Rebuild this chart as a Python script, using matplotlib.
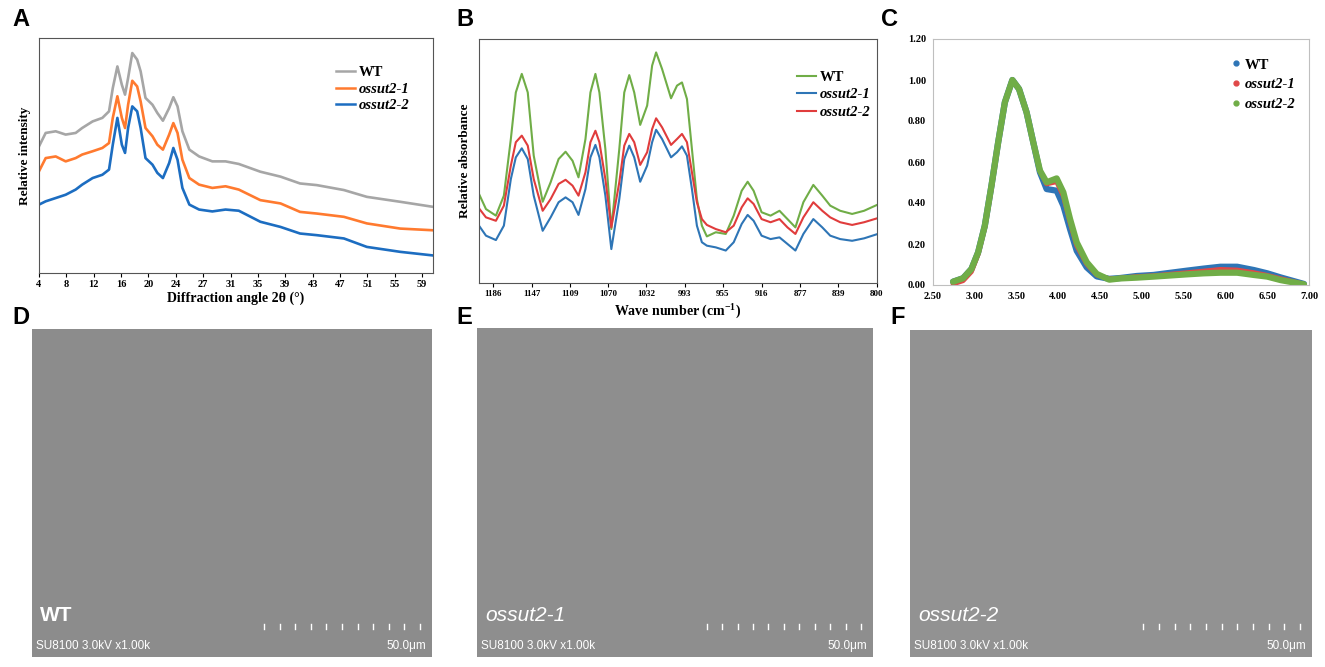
import matplotlib
matplotlib.use('Agg')
import matplotlib.pyplot as plt
from matplotlib.lines import Line2D
from matplotlib.ticker import FormatStrFormatter

plt.rcParams['mathtext.fontset'] = 'custom'
plt.rcParams['mathtext.rm'] = 'Liberation Serif:bold'
plt.rcParams['mathtext.bf'] = 'Liberation Serif:bold'

W, H = 1325, 667

# ---- A: XRD ----
xrd_angle = [4.0, 4.96, 6.4, 7.83, 9.27, 10.2, 11.7, 13.1, 14.06, 14.6, 15.26, 15.9, 16.36,
             16.8, 17.4, 18.1, 18.6, 19.3, 20.3, 21.0, 21.8, 22.7, 23.3, 23.9, 24.6,
             25.6, 27.0, 28.9, 30.8, 32.7, 35.8, 38.7, 41.5, 43.9, 47.8, 51.1, 55.9, 60.5]
xrd_wt = [53.9, 59.6, 60.3, 58.9, 59.6, 61.7, 64.5, 66.0, 68.8, 78.7, 87.9, 80.1, 75.9,
          83.0, 93.6, 90.8, 85.8, 74.5, 71.6, 68.1, 64.8, 70.2, 74.8, 70.9, 60.3,
          52.5, 49.6, 47.5, 47.5, 46.4, 43.1, 41.0, 38.1, 37.4, 35.3, 32.4, 30.3, 28.2]
xrd_o1 = [43.3, 48.9, 49.6, 47.5, 48.9, 50.4, 51.8, 53.2, 55.3, 66.0, 75.2, 66.0, 61.7,
          71.6, 81.8, 79.4, 73.0, 61.7, 58.2, 54.6, 52.5, 58.9, 63.8, 59.6, 48.2,
          40.4, 37.6, 36.2, 36.9, 35.5, 31.0, 29.6, 26.0, 25.3, 23.9, 21.1, 18.9, 18.2]
xrd_o2 = [29.1, 30.5, 31.9, 33.3, 35.5, 37.6, 40.4, 41.8, 44.0, 54.6, 66.0, 54.6, 51.1,
          61.7, 70.9, 68.8, 61.7, 48.9, 46.1, 42.6, 40.4, 46.8, 53.2, 48.2, 36.2,
          29.1, 27.0, 26.2, 27.0, 26.5, 21.8, 19.6, 16.8, 16.1, 14.7, 11.1, 9.0, 7.5]
xrd_ticklabels = ['4', '8', '12', '16', '20', '24', '27', '31', '35', '39', '43', '47', '51', '55', '59']

# ---- B: FTIR ----
ftir_wn = [1200, 1193, 1183, 1175, 1168, 1163, 1157, 1151, 1145, 1136, 1128, 1120, 1113,
           1106, 1100, 1093, 1088, 1083, 1079, 1073, 1067, 1059, 1054, 1049, 1044, 1038,
           1031, 1026, 1022, 1016, 1007, 1001, 996, 991, 986, 981, 976, 971, 962, 952,
           944, 936, 930, 924, 916, 907, 898, 890, 882, 874, 864, 855, 847, 837, 825,
           813, 800]
ftir_wt = [36.5, 30.3, 27.6, 35.8, 59.0, 78.1, 85.7, 78.1, 52.2, 33.3, 41.3, 50.8, 53.8,
           50.1, 43.3, 59.0, 78.1, 85.7, 78.1, 54.9, 22.1, 54.9, 78.1, 85.2, 78.1, 64.8,
           72.7, 89.1, 94.5, 87.7, 75.7, 80.9, 82.2, 75.4, 54.9, 34.4, 23.5, 19.1, 20.8, 20.1,
           27.6, 37.8, 41.5, 37.8, 29.0, 27.6, 29.6, 26.2, 22.8, 33.1, 40.2, 35.8, 31.7, 29.6, 28.3,
           29.6, 32.0]
ftir_o1 = [23.5, 19.4, 17.6, 23.5, 42.6, 51.5, 55.2, 50.8, 35.8, 21.4, 26.9, 33.1, 35.1,
           33.1, 27.9, 38.5, 51.5, 56.6, 51.5, 35.8, 13.9, 34.4, 50.8, 56.3, 51.5, 41.5,
           48.1, 57.7, 62.8, 59.0, 51.5, 53.6, 56.0, 52.2, 38.5, 23.5, 16.7, 15.3, 14.6, 13.3,
           16.7, 24.2, 27.9, 25.5, 19.4, 18.0, 18.7, 16.0, 13.3, 20.1, 26.2, 22.8, 19.4, 18.0, 17.3,
           18.3, 20.0]
ftir_o2 = [30.6, 26.9, 25.5, 31.7, 48.1, 57.7, 60.4, 56.3, 42.6, 29.6, 34.4, 40.6, 42.3,
           39.9, 35.8, 45.4, 57.7, 62.4, 57.7, 42.6, 22.8, 41.3, 56.3, 61.1, 57.7, 48.4,
           53.6, 63.1, 67.5, 63.8, 56.6, 59.0, 61.1, 57.7, 45.4, 33.1, 26.2, 23.8, 22.1, 20.8,
           23.5, 31.0, 34.7, 32.4, 26.2, 24.9, 26.2, 22.8, 20.1, 26.9, 33.1, 29.6, 26.9, 24.9, 23.8,
           24.9, 26.5]
ftir_ticks = [1186, 1147, 1109, 1070, 1032, 993, 955, 916, 877, 839, 800]

# ---- C: distribution ----
dist_x = [2.74, 2.86, 2.96, 3.04, 3.12, 3.20, 3.28, 3.36, 3.45, 3.53, 3.62, 3.70, 3.78,
          3.86, 3.98, 4.06, 4.14, 4.22, 4.34, 4.46, 4.61, 4.74, 4.94, 5.14, 5.54, 5.74,
          5.94, 6.14, 6.34, 6.50, 6.66, 6.94]
dist_wt = [0.016, 0.033, 0.078, 0.159, 0.289, 0.485, 0.696, 0.891, 1.00, 0.956, 0.842, 0.696, 0.550,
           0.468, 0.460, 0.387, 0.273, 0.167, 0.086, 0.042, 0.030, 0.034, 0.044, 0.049, 0.070, 0.080,
           0.089, 0.089, 0.073, 0.057, 0.037, 0.005]
dist_o1 = [0.005, 0.021, 0.065, 0.150, 0.280, 0.475, 0.690, 0.888, 1.00, 0.956, 0.842, 0.696, 0.555,
           0.493, 0.504, 0.433, 0.306, 0.192, 0.102, 0.049, 0.030, 0.033, 0.041, 0.045, 0.060, 0.068,
           0.076, 0.073, 0.060, 0.047, 0.031, 0.004]
dist_o2 = [0.016, 0.033, 0.078, 0.159, 0.289, 0.485, 0.696, 0.891, 1.00, 0.956, 0.842, 0.696, 0.558,
           0.501, 0.520, 0.452, 0.322, 0.208, 0.111, 0.054, 0.026, 0.032, 0.036, 0.041, 0.052, 0.057,
           0.060, 0.060, 0.049, 0.041, 0.024, 0.003]

genotypes = ['WT', 'ossut2-1', 'ossut2-2']
sem_texts = ['SU8100 3.0kV x1.00k', '50.0\u03bcm']

serif = 'Liberation Serif'
sans = 'Liberation Sans'

fig = plt.figure(figsize=(W / 100, H / 100), dpi=100)


def px_axes(l, t, r, b):
    return fig.add_axes([l / W, 1 - b / H, (r - l) / W, (b - t) / H])


def style_ticks(ax, size=7):
    for lab in ax.get_xticklabels() + ax.get_yticklabels():
        lab.set_fontfamily(serif)
        lab.set_fontweight('bold')
        lab.set_fontsize(size)


def add_legend(ax, handles, pos, spacing, hlen=1.3, hpad=0.25):
    leg = ax.legend(handles, genotypes, loc='upper left', frameon=False,
                    prop={'family': serif, 'weight': 'bold', 'size': 10.5},
                    handlelength=hlen, handletextpad=hpad, labelspacing=spacing,
                    bbox_to_anchor=pos, borderaxespad=0)
    for t in leg.get_texts()[1:]:
        t.set_fontstyle('italic')


# A
axA = px_axes(39, 38, 433, 273)
colsA = ['#A6A6A6', '#FF7A2F', '#1C6DC1']
for ys, c in zip([xrd_wt, xrd_o1, xrd_o2], colsA):
    axA.plot(xrd_angle, ys, color=c, lw=1.9)
axA.set_xlim(4, 60.6)
axA.set_ylim(0, 100)
axA.set_yticks([])
axA.set_xticks([4 + 3.93 * i for i in range(15)])
axA.set_xticklabels(xrd_ticklabels)
axA.tick_params(axis='x', length=3, pad=2)
style_ticks(axA, 7.5)
for s in axA.spines.values():
    s.set_color('#555555')
axA.set_xlabel('Diffraction angle 2\u03b8 (°)', family=serif, weight='bold', size=10, labelpad=2)
axA.set_ylabel('Relative intensity', family=serif, weight='bold', size=9.5, labelpad=6)
add_legend(axA, [Line2D([], [], color=c, lw=1.8) for c in colsA], (0.74, 0.905), 0.22)

# B
axB = px_axes(479, 39, 877, 283)
colsB = ['#70AD47', '#2E75B6', '#E03C3C']
for ys, c in zip([ftir_wt, ftir_o1, ftir_o2], colsB):
    axB.plot(ftir_wn, ys, color=c, lw=1.5)
axB.set_xlim(1200, 800)
axB.set_ylim(0, 100)
axB.set_yticks([])
axB.set_xticks(ftir_ticks)
axB.tick_params(axis='x', length=3, pad=2)
style_ticks(axB, 6.5)
for s in axB.spines.values():
    s.set_color('#555555')
axB.set_xlabel('Wave number (cm$^{-1}$)', family=serif, weight='bold', size=10, labelpad=2)
axB.set_ylabel('Relative absorbance', family=serif, weight='bold', size=9.5, labelpad=6)
add_legend(axB, [Line2D([], [], color=c, lw=1.5) for c in colsB], (0.785, 0.895), 0.3)

# C
axC = px_axes(933, 39, 1309, 285)
colsC = ['#2E75B6', '#E04848', '#70AD47']
for ys, c, lw in zip([dist_wt, dist_o1, dist_o2], colsC, [4.5, 3.5, 4.5]):
    axC.plot(dist_x, ys, color=c, lw=lw, solid_capstyle='round', solid_joinstyle='round')
axC.set_xlim(2.5, 7.0)
axC.set_ylim(0, 1.2)
axC.set_xticks([2.5 + 0.5 * i for i in range(10)])
axC.set_yticks([0.2 * i for i in range(7)])
axC.xaxis.set_major_formatter(FormatStrFormatter('%.2f'))
axC.yaxis.set_major_formatter(FormatStrFormatter('%.2f'))
axC.tick_params(length=0, pad=5)
style_ticks(axC, 7.5)
for s in axC.spines.values():
    s.set_color('#BFBFBF')
add_legend(axC, [Line2D([], [], color=c, lw=0, marker='o', markersize=3.5) for c in colsC],
           (0.78, 0.945), 0.45, hlen=0.5, hpad=0.35)

# D-F: SEM micrograph panels (image placeholders)
sem_boxes = [(32, 329, 432, 657), (477, 328, 873, 657), (910, 330, 1312, 657)]
sem_grays = ['#8C8C8C', '#8E8E8E', '#929292']
for i, ((l, t, r, b), g) in enumerate(zip(sem_boxes, sem_grays)):
    ax = px_axes(l, t, r, b)
    ax.set_facecolor(g)
    ax.set_xticks([])
    ax.set_yticks([])
    ax.set_xlim(0, 1)
    ax.set_ylim(0, 1)
    for s in ax.spines.values():
        s.set_visible(False)
    style = 'normal' if i == 0 else 'italic'
    weight = 'bold' if i == 0 else 'normal'
    ax.text(0.02, 0.11, genotypes[i], color='white', family=sans, weight=weight,
            style=style, size=15, transform=ax.transAxes)
    ax.text(0.01, 0.025, sem_texts[0], color='white', family=sans, size=8.5,
            transform=ax.transAxes)
    ax.text(0.985, 0.025, sem_texts[1], color='white', family=sans, size=8.5,
            ha='right', transform=ax.transAxes)
    for k in range(11):
        xx = 0.58 + k * 0.039
        ax.plot([xx, xx], [0.085, 0.1], color='white', lw=1)

# Panel letters
for letter, (x, y) in zip('ABCDEF', [(12, 20), (456, 20), (881, 20), (12, 318), (456, 318), (890, 318)]):
    fig.text(x / W, 1 - y / H, letter, family=sans, weight='bold', size=17, va='center')

fig.savefig('out.png', dpi=100)
